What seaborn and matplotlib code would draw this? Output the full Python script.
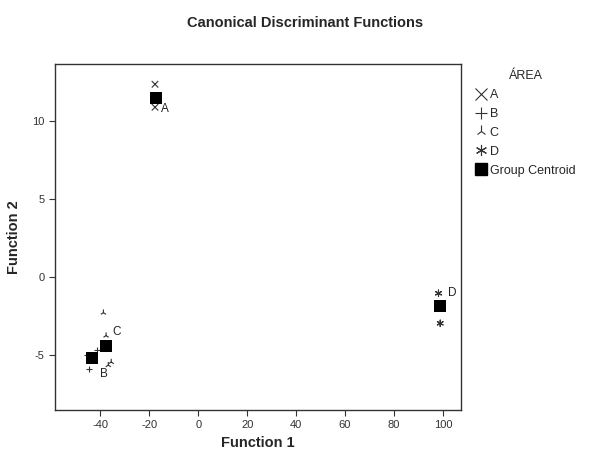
import pandas as pd
import seaborn as sns
import matplotlib.pyplot as plt
from matplotlib.lines import Line2D

# case scores
area = ['A', 'A', 'B', 'B', 'B', 'C', 'C', 'C', 'C', 'D', 'D']
func1 = [-17.7, -17.7, -41.3, -44.7, -45.6, -38.8, -37.7, -36.8, -35.6, 98.2, 98.9]
func2 = [12.33, 10.86, -4.68, -5.90, -5.00, -2.29, -3.76, -5.65, -5.45, -1.05, -2.97]

# group centroids
groups = ['A', 'B', 'C', 'D']
cent_f1 = [-17.4, -43.6, -37.9, 98.9]
cent_f2 = [11.43, -5.21, -4.40, -1.86]
label_offsets = [(6.5, -7.5), (9, -11), (8, 9.5), (8.5, 9)]

x_ticks = [-40, -20, 0, 20, 40, 60, 80, 100]
y_ticks = [-5, 0, 5, 10]

data = pd.DataFrame({'Function 1': func1, 'Function 2': func2, 'ÁREA': area})
centroids = pd.DataFrame({'Function 1': cent_f1, 'Function 2': cent_f2, 'ÁREA': groups})

marker_map = {'A': 'x', 'B': '+', 'C': '2', 'D': (6, 2, 0)}

sns.set_style('ticks')
plt.rcParams['font.family'] = ['Liberation Sans', 'DejaVu Sans']
plt.rcParams['axes.unicode_minus'] = False

fig = plt.figure(figsize=(5.93, 4.57), dpi=100)
ax = fig.add_axes([0.0927, 0.1028, 0.6847, 0.7572])

sns.scatterplot(data=data, x='Function 1', y='Function 2', style='ÁREA',
                markers=marker_map, color='#333333', s=22, linewidth=0.8,
                legend=False, ax=ax)
sns.scatterplot(data=centroids, x='Function 1', y='Function 2', marker='s',
                color='black', s=85, linewidth=0, legend=False, ax=ax, zorder=3)

for g, xv, yv, off in zip(groups, cent_f1, cent_f2, label_offsets):
    ax.annotate(g, (xv, yv), xytext=off, textcoords='offset points',
                ha='center', va='center', fontsize=8.5, color='#222222')

ax.set_xlim(-58.6, 107.4)
ax.set_ylim(-8.52, 13.63)
ax.set_xticks(x_ticks)
ax.set_yticks(y_ticks)
ax.tick_params(labelsize=8, colors='#333333', length=4, width=0.8)
for sp in ax.spines.values():
    sp.set_color('#333333')
    sp.set_linewidth(1)
ax.set_xlabel('Function 1', fontsize=10.5, fontweight='bold', labelpad=4)
ax.set_ylabel('Function 2', fontsize=10.5, fontweight='bold', labelpad=8)

fig.text(0.515, 0.95, 'Canonical Discriminant Functions', ha='center', va='center',
         fontsize=10.5, fontweight='bold')

handles = [Line2D([], [], marker=marker_map[g], color='#333333', linestyle='none',
                  markersize=8, markeredgewidth=0.8, label=g) for g in groups]
handles.append(Line2D([], [], marker='s', color='black', linestyle='none',
                      markersize=8.5, label='Group Centroid'))
leg = fig.legend(handles=handles, title='ÁREA', loc='upper left',
                 bbox_to_anchor=(0.793, 0.86), frameon=False, fontsize=9,
                 title_fontsize=9, handlelength=0.8, handletextpad=0.25,
                 labelspacing=0.55, borderpad=0)

fig.savefig('out.png', dpi=100)
